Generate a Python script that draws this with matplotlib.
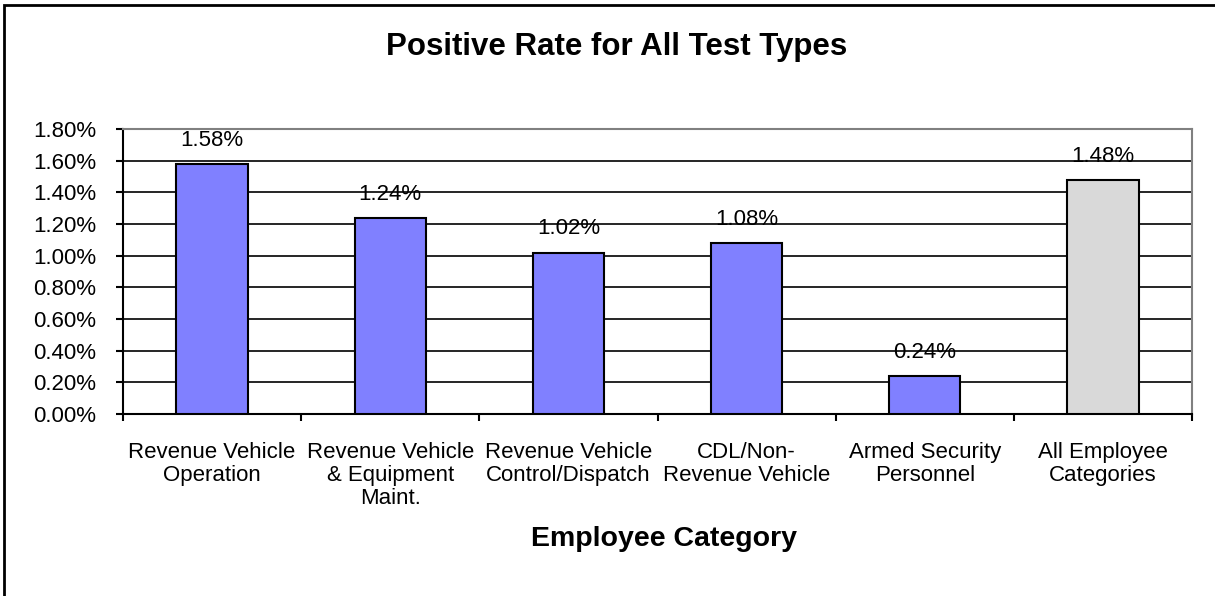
import matplotlib
matplotlib.use("Agg")
import matplotlib.pyplot as plt
import numpy as np
from matplotlib.patches import Rectangle
from matplotlib.ticker import FuncFormatter, MultipleLocator

# data
categories = ["Revenue Vehicle\nOperation",
              "Revenue Vehicle\n& Equipment\nMaint.",
              "Revenue Vehicle\nControl/Dispatch",
              "CDL/Non-\nRevenue Vehicle",
              "Armed Security\nPersonnel",
              "All Employee\nCategories"]
rates = [1.58, 1.24, 1.02, 1.08, 0.24, 1.48]
bar_colors = ["#8080FF"] * 5 + ["#D9D9D9"]

plt.rcParams["font.family"] = ["Liberation Sans", "DejaVu Sans"]

W, H = 1215, 596
fig = plt.figure(figsize=(W / 100, H / 100), dpi=100)
ax = fig.add_axes([123 / W, 1 - 414 / H, (1192 - 123) / W, (414 - 129) / H])

x = np.arange(len(categories))
ax.bar(x, rates, width=0.4, color=bar_colors, edgecolor="black", linewidth=1.5, zorder=3)

for xi, v in zip(x, rates):
    ax.annotate(f"{v:.2f}%", (xi, v), xytext=(0, 13), textcoords="offset points",
                ha="center", va="baseline", fontsize=16, zorder=4)

ax.set_xlim(-0.5, len(categories) - 0.5)
ax.set_ylim(0, 1.8)
ax.yaxis.set_major_locator(MultipleLocator(0.2))
ax.yaxis.set_major_formatter(FuncFormatter(lambda v, p: f"{v:.2f}%"))
ax.grid(axis="y", color="black", linewidth=1.2, zorder=1)
ax.set_axisbelow(True)

ax.set_xticks(x)
ax.set_xticklabels(categories, fontsize=16, linespacing=1.12)
ax.set_xticks(np.arange(-0.5, len(categories), 1.0), minor=True)
ax.tick_params(axis="x", which="major", length=0, pad=20)
ax.tick_params(axis="x", which="minor", length=5, width=1.5, direction="out")
ax.tick_params(axis="y", length=5, width=1.5, direction="out", pad=14, labelsize=16)

ax.spines["left"].set_linewidth(1.5)
ax.spines["bottom"].set_linewidth(1.5)
ax.spines["top"].set_color("#808080")
ax.spines["right"].set_color("#808080")
ax.spines["top"].set_linewidth(1.5)
ax.spines["right"].set_linewidth(1.5)

fig.text(617 / W, 1 - 47 / H, "Positive Rate for All Test Types", ha="center", va="center",
         fontsize=22.5, fontweight="bold")
fig.text(664 / W, 1 - 539 / H, "Employee Category", ha="center", va="center",
         fontsize=20.5, fontweight="bold")

# outer chart frame (right and bottom edges fall outside the image)
fig.patches.append(Rectangle((4 / W, -0.05), 1.2, 1 - 5 / H + 0.05, transform=fig.transFigure,
                             fill=False, edgecolor="black", linewidth=2))

fig.savefig("out.png", dpi=100)
